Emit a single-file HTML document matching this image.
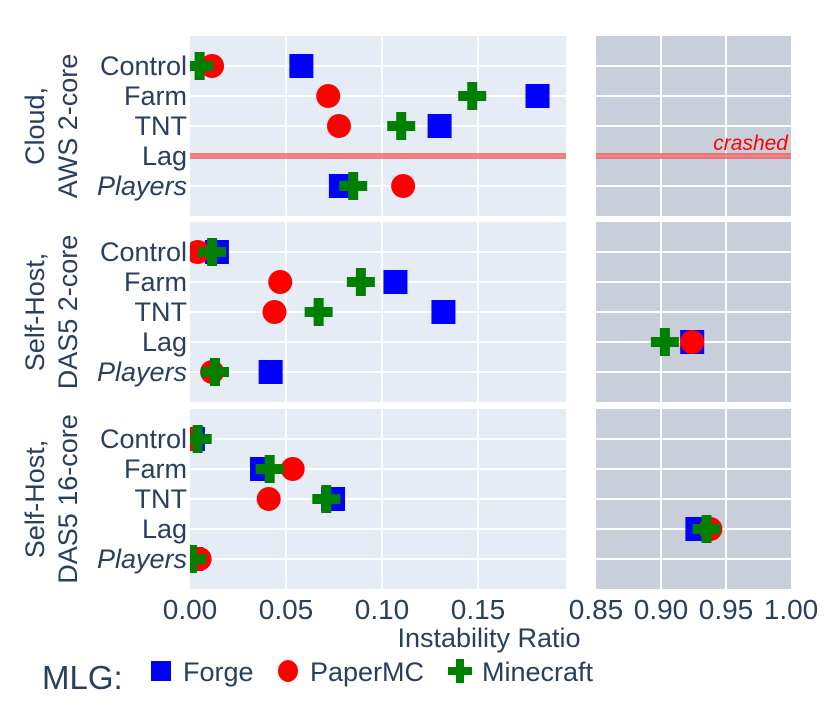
<!DOCTYPE html>
<html><head><meta charset="utf-8"><style>
html,body{margin:0;padding:0;background:#fff;}
svg{display:block;font-family:"Liberation Sans",sans-serif;}
</style></head><body>
<svg id="chart" width="831" height="712" viewBox="0 0 831 712">
<defs>
<clipPath id="clipL0"><rect x="190" y="36" width="376" height="180"/></clipPath>
<clipPath id="clipL1"><rect x="190" y="222" width="376" height="180"/></clipPath>
<clipPath id="clipL2"><rect x="190" y="409" width="376" height="180"/></clipPath>
<clipPath id="clipR0"><rect x="596" y="36" width="195" height="180"/></clipPath>
<clipPath id="clipR1"><rect x="596" y="222" width="195" height="180"/></clipPath>
<clipPath id="clipR2"><rect x="596" y="409" width="195" height="180"/></clipPath>
</defs>
<g id="panels"></g>
<g id="marks"></g>
<g id="labels"></g>
</svg>
<script>
const categories = ["Control","Farm","TNT","Lag","Players"];
const rowTitles = [["Cloud,","AWS 2-core"],["Self-Host,","DAS5 2-core"],["Self-Host,","DAS5 16-core"]];
const leftTicks = [0.00,0.05,0.10,0.15];
const rightTicks = [0.85,0.90,0.95,1.00];
const series = ["Forge","PaperMC","Minecraft"];
// values per row (env) per category; null = crashed / absent
const forge0 = [0.058,0.181,0.130,null,0.0786];
const paper0 = [0.0115,0.072,0.0776,null,0.111];
const mc0 = [0.005,0.147,0.110,null,0.085];
const forge1 = [0.014,0.107,0.132,0.924,0.042];
const paper1 = [0.004,0.047,0.044,0.924,0.0115];
const mc1 = [0.0115,0.089,0.067,0.903,0.013];
const forge2 = [0.0015,0.0375,0.0745,0.928,0.0005];
const paper2 = [0.001,0.0535,0.041,0.938,0.005];
const mc2 = [0.004,0.0415,0.071,0.935,0.001];
const crashedRows = [0]; const crashedCategory = "Lag";

const NS="http://www.w3.org/2000/svg";
const panelTops=[36,222,409], panelH=180;
const LX0=190, LW=376, RX0=596, RW=195;
function xL(v){return LX0+v*1920;}
function xR(v){return RX0+(v-0.85)/0.15*RW;}
function yC(row,i){return panelTops[row]+30+i*30;}
function mk(tag,attrs,parent){const e=document.createElementNS(NS,tag);for(const k in attrs)e.setAttribute(k,attrs[k]);parent.appendChild(e);return e;}
const gP=document.getElementById('panels'), gM=document.getElementById('marks'), gL=document.getElementById('labels');
const data=[[forge0,paper0,mc0],[forge1,paper1,mc1],[forge2,paper2,mc2]];
for(let r=0;r<3;r++){
  const top=panelTops[r];
  const pl=mk('rect',{x:LX0,y:top,width:LW,height:panelH,fill:'#e5ecf6'},gP);
  
  
  const pr=mk('rect',{x:RX0,y:top,width:RW,height:panelH,fill:'#c8cfda'},gP);
  
  
  leftTicks.slice(1).forEach(t=>{mk('line',{x1:xL(t),x2:xL(t),y1:top,y2:top+panelH,stroke:'#fff','stroke-width':2},gP);});
  rightTicks.slice(1,3).forEach(t=>{mk('line',{x1:xR(t),x2:xR(t),y1:top,y2:top+panelH,stroke:'#fff','stroke-width':2},gP);});
  categories.forEach((c,i)=>{
    const y=yC(r,i);
    mk('line',{x1:LX0,x2:LX0+LW,y1:y,y2:y,stroke:'#fff','stroke-width':2},gP);
    mk('line',{x1:RX0,x2:RX0+RW,y1:y,y2:y,stroke:'#fff','stroke-width':2},gP);
    const t=mk('text',{x:187,y:y+9,'text-anchor':'end','font-size':27,fill:'#2a3f5f'},gL);
    if(c==='Players')t.setAttribute('font-style','italic');
    t.textContent=c;
    
    
  });
  const tt=mk('text',{transform:`translate(44,${top+90}) rotate(-90)`,'text-anchor':'middle','font-size':27,fill:'#2a3f5f'},gL);
  
  
  mk('tspan',{x:0,dy:0},tt).textContent=rowTitles[r][0];
  mk('tspan',{x:0,dy:33},tt).textContent=rowTitles[r][1];
  if(crashedRows.includes(r)){
    const y=yC(r,categories.indexOf(crashedCategory));
    const l1=mk('rect',{x:LX0,y:y-3,width:LW,height:6,fill:'rgba(240,80,80,0.7)'},gM);
    
    
    const l2=mk('rect',{x:RX0,y:y-3,width:RW,height:6,fill:'rgba(240,80,80,0.7)'},gM);
    
    
    const ct=mk('text',{x:788,y:y-6,'text-anchor':'end','font-size':21,'font-style':'italic',fill:'#ff0000'},gM);
    ct.textContent='crashed';
    
    
  }
  data[r].forEach((arr,s)=>{
    arr.forEach((v,i)=>{
      if(v===null)return;
      const right=v>=0.5;
      const x=right?xR(v):xL(v), y=yC(r,i);
      const g=mk('g',{'clip-path':`url(#clip${right?'R':'L'}${r})`},gM);
      let e;
      if(s===0) e=mk('rect',{x:x-12,y:y-12,width:24,height:24,fill:'#0000ff'},g);
      else if(s===1) e=mk('circle',{cx:x,cy:y,r:12,fill:'#ff0000'},g);
      else e=mk('path',{d:`M${x-5},${y-14}h10v9h9v10h-9v9h-10v-9h-9v-10h9z`,fill:'#008000'},g);
      
      
    });
  });
}
leftTicks.forEach(t=>{const e=mk('text',{x:xL(t),y:619,'text-anchor':'middle','font-size':28,fill:'#2a3f5f'},gL);e.textContent=t.toFixed(2);
  
  });
rightTicks.forEach(t=>{const e=mk('text',{x:xR(t),y:619,'text-anchor':'middle','font-size':28,fill:'#2a3f5f'},gL);e.textContent=t.toFixed(2);
  
  });
const xt=mk('text',{x:489,y:647,'text-anchor':'middle','font-size':27,fill:'#2a3f5f'},gL);xt.textContent='Instability Ratio';


const lg=mk('g',{},gL);


const lt=mk('text',{x:42,y:689,'font-size':33,fill:'#2a3f5f'},lg);lt.textContent='MLG:';


const lx=[161,288,460];
series.forEach((s,i)=>{
  const x=lx[i], y=671;
  const it=mk('g',{},lg);
  
  
  if(i===0) mk('rect',{x:x-10,y:y-10,width:20,height:20,fill:'#0000ff'},it);
  else if(i===1) mk('ellipse',{cx:x,cy:y,rx:10,ry:11,fill:'#ff0000'},it);
  else mk('path',{d:`M${x-4},${y-12}h8v8h8v8h-8v8h-8v-8h-8v-8h8z`,fill:'#008000'},it);
  const t=mk('text',{x:x+22,y:y+10,'font-size':27,fill:'#2a3f5f'},it);t.textContent=s;
});
</script>
</body></html>
